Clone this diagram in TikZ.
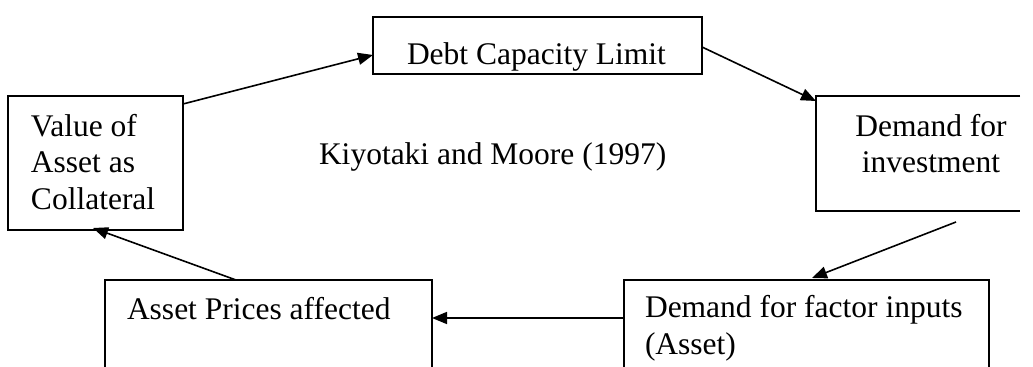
\documentclass[tikz,border=0pt]{standalone}
\usepackage{fontspec}
\setmainfont{Liberation Serif}
\usetikzlibrary{arrows.meta,calc}
\begin{document}
\begin{tikzpicture}[x=0.5pt,y=-0.5pt,
  box/.style={draw,line width=0.85pt,inner sep=0pt,outer sep=0pt,rectangle},
  openbox/.style={box,draw=none},
  edge/.style={line width=0.85pt},
  txt/.style={inner sep=0pt,outer sep=0pt,anchor=base west,font=\fontsize{15.75}{18.25}\selectfont},
  ctxt/.style={txt,anchor=base},
  arr/.style={line width=0.8pt,-{Triangle[length=7.5pt,width=6pt]}}]
\fill[white] (0,0) rectangle (1033,367);
\useasboundingbox (0,0) rectangle (1033,367);
% boxes
\node[box,minimum width=164.5pt,minimum height=28.5pt] (debt) at (537.5,45.5) {};
\node[box,minimum width=87.5pt,minimum height=67pt] (val) at (95.5,163) {};
\node[openbox,minimum width=102pt,minimum height=57.5pt] (inv) at (918,153.5) {};
\draw[edge] (inv.north east) -- (inv.north west) -- (inv.south west) -- (inv.south east);
\node[openbox,minimum width=163.5pt,minimum height=44pt] (price) at (268.5,324) {};
\draw[edge] (price.south west) -- (price.north west) -- (price.north east) -- (price.south east);
\node[openbox,minimum width=182.5pt,minimum height=44pt] (factor) at (806.5,324) {};
\draw[edge] (factor.south west) -- (factor.north west) -- (factor.north east) -- (factor.south east);
% texts
\node[txt] (tdebt) at (407,65) {Debt Capacity Limit};
\node[txt] (title) at (319,165) {Kiyotaki and Moore (1997)};
\node[txt] (v1) at (31,137) {Value of};
\node[txt] (v2) at (31,173) {Asset as};
\node[txt] (v3) at (31,210) {Collateral};
\node[ctxt] (i1) at (931,137) {Demand for};
\node[ctxt] (i2) at (931,173) {investment};
\node[txt] (tprice) at (127,320) {Asset Prices affected};
\node[txt] (f1) at (645,318) {Demand for factor inputs};
\node[txt] (f2) at (645,355) {(Asset)};
% connectors
\coordinate (s3) at (956,222);
\draw[arr] ($(val.north east)+(0,8)$) -- ($(debt.west)+(0,9.5)$);
\draw[arr] ($(debt.east)+(0,1.5)$) -- ($(inv.north west)+(0,5)$);
\draw[arr] (s3) -- ($(factor.north west)+(188,-2)$);
\draw[arr] ($(factor.north west)+(0,38)$) -- ($(price.north east)+(0,38)$);
\draw[arr] ($(price.north west)+(131,0)$) -- ($(val.south west)+(85,-2)$);
\end{tikzpicture}
\end{document}
